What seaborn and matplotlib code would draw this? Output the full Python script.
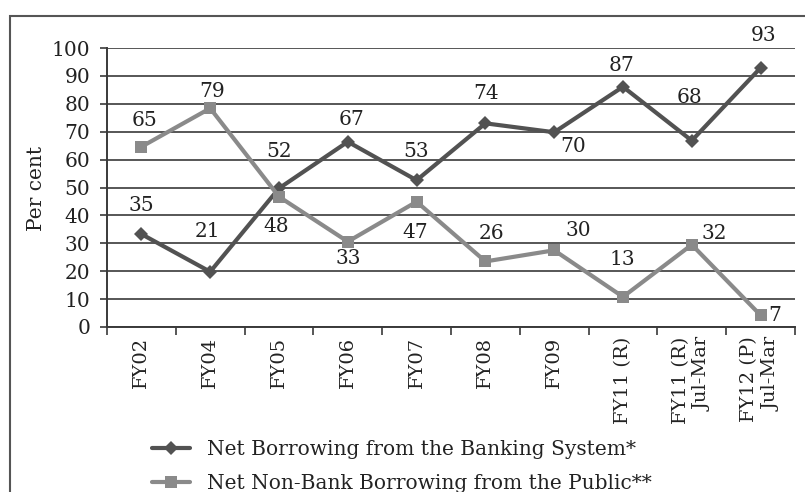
import matplotlib
matplotlib.use("Agg")
import matplotlib.pyplot as plt
import matplotlib.patches as mpatches
import seaborn as sns
import pandas as pd
import numpy as np

# ---- data ----
categories = ["FY02", "FY04", "FY05", "FY06", "FY07", "FY08", "FY09",
              "FY11 (R)", "FY11 (R)\nJul-Mar", "FY12 (P)\nJul-Mar"]
bank_name = "Net Borrowing from the Banking System*"
nonbank_name = "Net Non-Bank Borrowing from the Public**"
# plotted positions (as drawn in the reference)
bank_values = [33.3, 19.8, 49.7, 66.4, 52.6, 73.0, 69.8, 86.1, 66.8, 92.9]
nonbank_values = [64.6, 78.4, 46.7, 30.6, 44.9, 23.5, 27.5, 10.8, 29.5, 4.2]
# data labels as printed
bank_labels = ["35", "21", "52", "67", "53", "74", "70", "87", "68", "93"]
nonbank_labels = ["65", "79", "48", "33", "47", "26", "30", "13", "32", "7"]
y_ticks = [0, 10, 20, 30, 40, 50, 60, 70, 80, 90, 100]

# label offsets in pixels (dx, dy) — styling only
bank_offsets = [(0, 29), (-3, 40), (0, 37), (4, 22), (-1, 29), (1, 30),
                (19, -14), (-2, 21), (-2, 43), (3, 32)]
nonbank_offsets = [(3, 26), (2, 17), (-3, -30), (0, -17), (-1, -31), (6, 28),
                   (24, 20), (-1, 37), (22, 11), (14, 0)]

sns.set_theme(style="white")
plt.rcParams["font.family"] = ["DejaVu Serif"]
FS = 14.5

fig = plt.figure(figsize=(8.05, 4.92), dpi=100)
W, H = 805, 492
ax = fig.add_axes([107 / W, 1 - 327 / H, (795 - 107) / W, (327 - 48) / H])

pos = np.arange(len(categories))
df = pd.DataFrame({
    "pos": np.concatenate([pos, pos]),
    "value": bank_values + nonbank_values,
    "series": [bank_name] * len(pos) + [nonbank_name] * len(pos),
})

bank_color = "#525252"
nonbank_color = "#8a8a8a"

sns.lineplot(data=df[df.series == bank_name], x="pos", y="value", ax=ax,
             color=bank_color, linewidth=3, marker="D", markersize=7.5,
             markeredgewidth=0, label=bank_name)
sns.lineplot(data=df[df.series == nonbank_name], x="pos", y="value", ax=ax,
             color=nonbank_color, linewidth=3, marker="s", markersize=8,
             markeredgewidth=0, label=nonbank_name)

# data labels
for x, v, t, (dx, dy) in zip(pos, bank_values, bank_labels, bank_offsets):
    ax.annotate(t, (x, v), xytext=(dx, dy), textcoords="offset pixels",
                ha="center", va="center", fontsize=FS, color="#222222")
for x, v, t, (dx, dy) in zip(pos, nonbank_values, nonbank_labels, nonbank_offsets):
    ax.annotate(t, (x, v), xytext=(dx, dy), textcoords="offset pixels",
                ha="center", va="center", fontsize=FS, color="#222222")

ax.set_xlim(-0.5, len(categories) - 0.5)
ax.set_ylim(0, 100)
ax.set_yticks(y_ticks)
ax.set_yticklabels([str(t) for t in y_ticks], fontsize=FS, color="#222222")
ax.yaxis.grid(True, color="#3a3a3a", linewidth=1.2)
ax.xaxis.grid(False)
ax.set_axisbelow(True)

ax.set_xticks(pos)
ax.set_xticklabels(categories, rotation=90, fontsize=14, color="#222222",
                   va="top", ha="center", multialignment="right",
                   linespacing=1.3)
ax.set_xticks(np.arange(-0.5, len(categories) + 0.5, 1), minor=True)
ax.tick_params(axis="x", which="major", length=0, pad=7)
ax.tick_params(axis="x", which="minor", length=6, width=1.2, color="#3a3a3a",
               direction="out", bottom=True)
ax.tick_params(axis="y", which="major", length=5, width=1.2, color="#3a3a3a",
               direction="out", left=True, pad=7)

for s in ["top", "right"]:
    ax.spines[s].set_visible(False)
for s in ["left", "bottom"]:
    ax.spines[s].set_visible(True)
    ax.spines[s].set_color("#3a3a3a")
    ax.spines[s].set_linewidth(1.4)

ax.set_xlabel("")
ax.set_ylabel("")
fig.text(36 / W, 1 - 188 / H, "Per cent", rotation=90, ha="center",
         va="center", fontsize=FS, color="#222222")

leg = ax.legend(loc="upper left", bbox_to_anchor=(152 / W, 1 - 440 / H),
                bbox_transform=fig.transFigure, frameon=False, fontsize=FS,
                handlelength=1.9, handletextpad=0.85, labelspacing=0.75,
                borderaxespad=0, borderpad=0)
for t in leg.get_texts():
    t.set_color("#222222")

# outer border
fig.patches.append(mpatches.Rectangle((10 / W, -0.2), 1.2, 1.2 - 16 / H,
                                      transform=fig.transFigure, fill=False,
                                      edgecolor="#555555", linewidth=1.5,
                                      figure=fig))

fig.savefig("out.png", dpi=100)
